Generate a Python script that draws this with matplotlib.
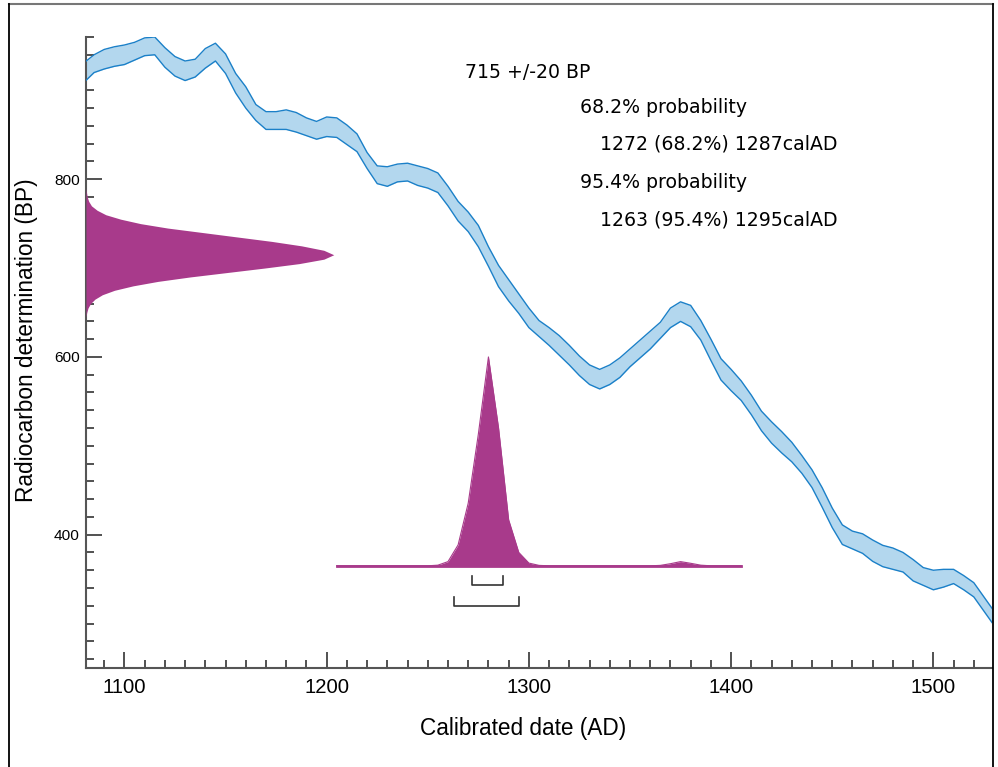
import matplotlib
matplotlib.use('agg')
import matplotlib.pyplot as plt
from matplotlib.lines import Line2D
from matplotlib.ticker import MultipleLocator
import numpy as np

# calibration curve, 5 yr steps (mean BP and error)
cal_years = list(range(1080, 1535, 5))
cal_bp = [920, 930, 935, 938, 940, 944, 949, 950, 937, 927,
          922, 925, 936, 943, 930, 908, 892, 875, 866, 866,
          867, 864, 859, 855, 859, 858, 850, 841, 821, 805,
          803, 807, 808, 804, 801, 796, 781, 764, 752, 736,
          713, 691, 675, 660, 644, 632, 623, 613, 602, 590,
          580, 575, 580, 588, 599, 609, 619, 630, 644, 651,
          646, 630, 608, 586, 574, 562, 546, 528, 515, 504,
          493, 479, 463, 442, 419, 400, 394, 390, 382, 376,
          373, 369, 360, 353, 349, 351, 353, 346, 338, 322, 306]
cal_err = [11, 10, 11, 11, 11, 10, 10, 10, 11, 11,
           11, 10, 11, 10, 11, 11, 12, 9, 10, 10,
           11, 11, 10, 10, 11, 11, 11, 10, 9, 10,
           11, 10, 10, 11, 11, 11, 11, 11, 11, 12,
           11, 12, 12, 11, 11, 9, 10, 11, 11, 11,
           11, 11, 11, 11, 10, 10, 10, 9, 11, 11,
           12, 11, 12, 12, 12, 11, 11, 11, 12, 12,
           11, 10, 10, 11, 11, 11, 10, 11, 12, 12,
           12, 11, 12, 10, 11, 10, 8, 8, 8, 8, 8]

# radiocarbon determination 715 +/- 20 BP (relative density)
r_bp = list(range(645, 795, 5))
r_dens = [0.0, 0.003, 0.008, 0.018, 0.036, 0.066, 0.115, 0.19, 0.29, 0.42,
          0.57, 0.72, 0.86, 0.96, 1.0, 0.96, 0.87, 0.75, 0.61, 0.47,
          0.33, 0.22, 0.14, 0.08, 0.045, 0.022, 0.011, 0.005, 0.002, 0.0]

# calibrated date probability (relative), 1205..1405 AD
post_years = list(range(1205, 1410, 5))
post_dens = [0, 0, 0, 0, 0, 0, 0, 0, 0, 0,             # 1205-1250
             0.003, 0.02, 0.10, 0.30, 0.63, 1.0,       # 1255-1280
             0.66, 0.22, 0.064, 0.013, 0.002,          # 1285-1305
             0, 0, 0, 0, 0, 0, 0, 0, 0, 0, 0,          # 1310-1360
             0.002, 0.01, 0.02, 0.012, 0.003,          # 1365-1385
             0, 0, 0, 0]                               # 1390-1405

range_68 = (1272, 1287)
range_95 = (1263, 1295)

summary = ['715 +/-20 BP', '68.2% probability', '1272 (68.2%) 1287calAD',
           '95.4% probability', '1263 (95.4%) 1295calAD']

W, H = 998, 767
purple = '#a83a8b'
blue_edge = '#1b80c8'
blue_fill = '#b3d7ee'
axis_col = '#555555'

plt.rcParams['font.family'] = ['Liberation Sans', 'DejaVu Sans']

fig = plt.figure(figsize=(W / 100, H / 100), dpi=100)
ax = fig.add_axes([86 / W, 1 - 668 / H, (992 - 86) / W, (668 - 37) / H])
ax.set_xlim(1081, 1529)
ax.set_ylim(250, 960)

# calibration band
cal_bp = np.array(cal_bp)
cal_err = np.array(cal_err)
ax.fill_between(cal_years, cal_bp - cal_err, cal_bp + cal_err, color=blue_fill, lw=0, zorder=2)
ax.plot(cal_years, cal_bp + cal_err, color=blue_edge, lw=1, zorder=3)
ax.plot(cal_years, cal_bp - cal_err, color=blue_edge, lw=1, zorder=3)

# radiocarbon date on the y axis
x0 = 1081
ax.fill_betweenx(r_bp, x0, x0 + np.array(r_dens) * 122.5, color=purple, lw=0, zorder=4)

# calibrated distribution
base = 365
post_top = base + np.array(post_dens) * 235
ax.fill_between(post_years, base, post_top, color=purple, lw=0, zorder=4)
ax.plot(post_years, post_top, color=purple, lw=0.8, zorder=4)
ax.plot([post_years[0], post_years[-1]], [base, base], color=purple, lw=2, zorder=4)

# range brackets
for (lo, hi), lev in [(range_68, 343), (range_95, 320)]:
    ax.plot([lo, lo, hi, hi], [lev + 10, lev, lev, lev + 10], color='#333333', lw=1.2, zorder=5)

# axes styling
for s in ['top', 'right']:
    ax.spines[s].set_visible(False)
for s in ['left', 'bottom']:
    ax.spines[s].set_color(axis_col)
    ax.spines[s].set_linewidth(1.5)

ax.xaxis.set_major_locator(MultipleLocator(100))
ax.xaxis.set_minor_locator(MultipleLocator(10))
ax.yaxis.set_major_locator(MultipleLocator(200))
ax.yaxis.set_minor_locator(MultipleLocator(20))
ax.tick_params(which='both', direction='in', color='#333333', width=1.2)
ax.tick_params(which='major', length=11.5)
ax.tick_params(which='minor', length=6)
ax.tick_params(axis='x', which='major', labelsize=14.6, pad=7)
ax.tick_params(axis='y', which='major', labelsize=11.1, pad=4.5)

ax.set_xlabel('Calibrated date (AD)', fontsize=16.3, va='center')
ax.xaxis.set_label_coords((523 - 86) / 906, (668 - 728) / 631)
ax.set_ylabel('Radiocarbon determination (BP)', fontsize=16.3, va='center')
ax.yaxis.set_label_coords((27 - 86) / 906, 0.52)

# summary text
txt_pos = [(465, 77.7), (580, 113), (600, 150), (580, 188), (600, 225)]
for s, (px, py) in zip(summary, txt_pos):
    fig.text(px / W, 1 - py / H, s, fontsize=13.6, family='DejaVu Sans', va='baseline', ha='left')

# figure frame
fig.add_artist(Line2D([9 / W, 993 / W], [1 - 4 / H, 1 - 4 / H], color='#777777', lw=1.5, transform=fig.transFigure))
fig.add_artist(Line2D([9.3 / W, 9.3 / W], [0, 1 - 4 / H], color='black', lw=1.3, transform=fig.transFigure))
fig.add_artist(Line2D([992.5 / W, 992.5 / W], [0, 1 - 4 / H], color='black', lw=1.3, transform=fig.transFigure))

fig.savefig('out.png', dpi=100)
